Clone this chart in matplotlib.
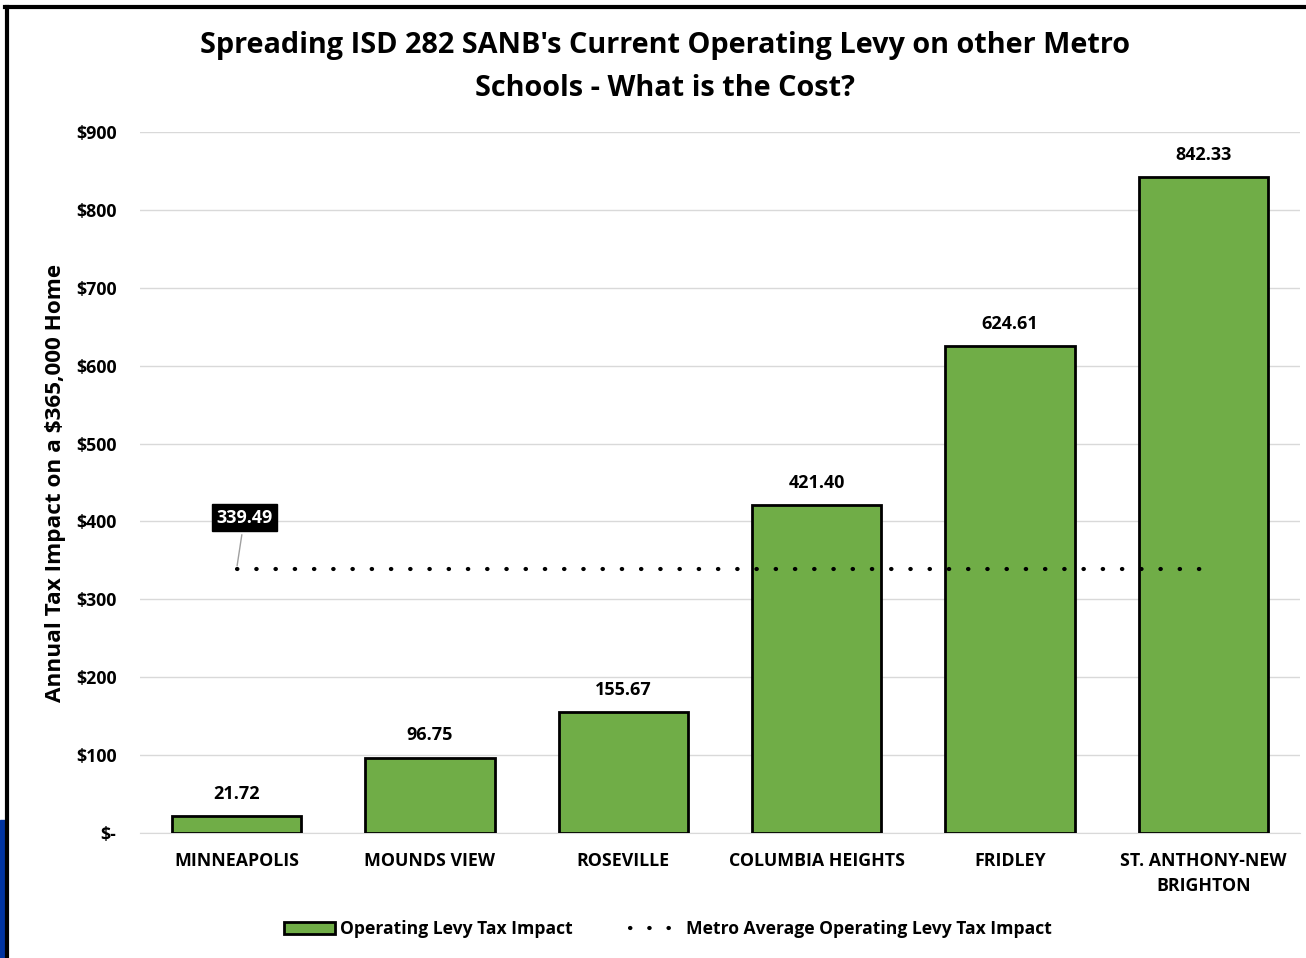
import matplotlib
matplotlib.use("Agg")
import matplotlib.pyplot as plt
from matplotlib.lines import Line2D
from matplotlib.patches import Patch, Rectangle

plt.rcParams['font.family'] = ['Open Sans', 'DejaVu Sans']
plt.rcParams['font.weight'] = 'bold'

# data
districts = ['MINNEAPOLIS', 'MOUNDS VIEW', 'ROSEVILLE', 'COLUMBIA HEIGHTS',
             'FRIDLEY', 'ST. ANTHONY-NEW\nBRIGHTON']
levy_impact = [21.72, 96.75, 155.67, 421.40, 624.61, 842.33]
metro_avg = 339.49
yticks = [0, 100, 200, 300, 400, 500, 600, 700, 800, 900]
ytick_labels = ['$-', '$100', '$200', '$300', '$400', '$500', '$600', '$700', '$800', '$900']

fig = plt.figure(figsize=(13.06, 9.58), dpi=100)
W, H = 1306, 958
ax = fig.add_axes([140 / W, 1 - 833 / H, 1160 / W, (833 - 132) / H])

DOTS = (0, (0.1, 4.517))

x = list(range(len(districts)))
ax.bar(x, levy_impact, width=0.67, color='#70AD47', edgecolor='black',
       linewidth=2, zorder=3, label='Operating Levy Tax Impact')
for xi, v in zip(x, levy_impact):
    ax.text(xi, v + 17, f'{v:.2f}', ha='center', va='bottom', fontsize=13,
            fontweight='bold', zorder=5)

ax.plot(x, [metro_avg] * len(x), linestyle=DOTS, dash_capstyle='round',
        color='black', linewidth=3, zorder=4,
        label='Metro Average Operating Levy Tax Impact')
ax.annotate(f'{metro_avg:.2f}', xy=(0, metro_avg), xytext=(0.04, metro_avg + 65),
            ha='center', va='center', color='white', fontsize=13, fontweight='bold',
            bbox=dict(boxstyle='square,pad=0.25', fc='black', ec='black'),
            arrowprops=dict(arrowstyle='-', color='#A0A0A0', lw=1), zorder=6)

ax.set_xlim(-0.5, len(districts) - 0.5)
ax.set_ylim(0, 900)
ax.set_yticks(yticks)
ax.set_yticklabels(ytick_labels)
ax.set_xticks(x)
ax.set_xticklabels(districts, linespacing=1.5)
ax.tick_params(axis='both', length=0, labelsize=12.8)
ax.tick_params(axis='y', pad=17)
ax.tick_params(axis='x', pad=14)
for lbl in ax.get_xticklabels() + ax.get_yticklabels():
    lbl.set_fontweight('bold')
ax.grid(axis='y', color='#D9D9D9', linewidth=1, zorder=0)
for s in ['top', 'right', 'left']:
    ax.spines[s].set_visible(False)
ax.spines['bottom'].set_color('#D9D9D9')
ax.set_ylabel('Annual Tax Impact on a $365,000 Home', fontsize=16.2, fontweight='bold',
              labelpad=7)

fig.text(665 / W, 1 - 67 / H,
         "Spreading ISD 282 SANB's Current Operating Levy on other Metro\nSchools - What is the Cost?",
         ha='center', va='center', fontsize=20.8, fontweight='bold', linespacing=1.6)

handles = [Patch(facecolor='#70AD47', edgecolor='black', linewidth=2),
           Line2D([0], [0], linestyle=DOTS, dash_capstyle='round',
                  color='black', linewidth=3)]
fig.legend(handles, ['Operating Levy Tax Impact', 'Metro Average Operating Levy Tax Impact'],
           loc='center', bbox_to_anchor=(668 / W, 1 - 929 / H), ncol=2, frameon=False,
           prop={'size': 12.6, 'weight': 'bold'}, handlelength=2.9, handletextpad=0.3,
           columnspacing=3.3)

# slide frame and accent bar
fig.add_artist(Line2D([5 / W, 1], [1 - 7 / H, 1 - 7 / H], color='black', lw=3,
                      transform=fig.transFigure))
fig.add_artist(Line2D([7 / W, 7 / W], [0, 1 - 7 / H], color='black', lw=3,
                      transform=fig.transFigure))
fig.add_artist(Rectangle((0, 0), 6 / W, (958 - 820) / H, color='#0033A0',
                         transform=fig.transFigure))

fig.savefig('out.png', dpi=100)
